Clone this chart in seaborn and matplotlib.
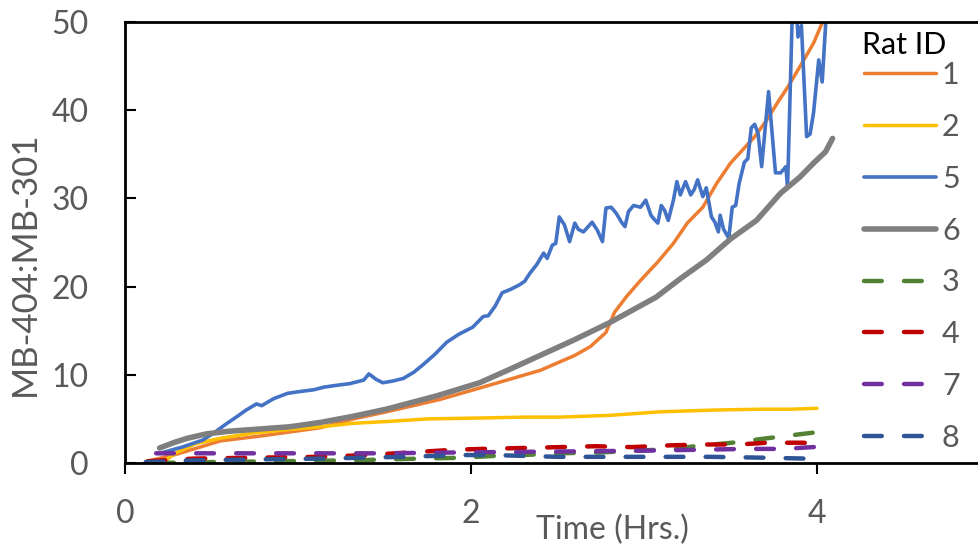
import matplotlib
matplotlib.use("Agg")
import matplotlib.pyplot as plt
import seaborn as sns
import pandas as pd

# ---- data: time (hrs) and MB-404:MB-301 ratio per rat ----
rat1_t = [0.15, 0.30, 0.55, 0.80, 1.13, 1.32, 1.51, 1.82, 2.05, 2.40, 2.60, 2.69, 2.78,
          2.83, 2.90, 2.98, 3.08, 3.17, 3.25, 3.34, 3.42, 3.50, 3.57, 3.64, 3.71, 3.77,
          3.83, 3.90, 3.98, 4.03, 4.08]
rat1_r = [0.3, 1.0, 2.5, 3.1, 4.0, 5.0, 5.8, 7.2, 8.5, 10.5, 12.2, 13.2, 14.8,
          17.1, 18.9, 20.7, 22.8, 24.9, 27.2, 29.0, 31.7, 34.0, 35.5, 37.0, 38.9, 40.8,
          42.6, 44.9, 47.6, 49.9, 51.5]

rat2_t = [0.22, 0.30, 0.41, 0.55, 0.74, 0.95, 1.13, 1.32, 1.51, 1.75, 2.05, 2.30, 2.51,
          2.80, 3.09, 3.40, 3.67, 3.85, 4.00]
rat2_r = [0.1, 1.2, 2.2, 2.8, 3.4, 3.8, 4.1, 4.5, 4.7, 5.0, 5.1, 5.2, 5.2,
          5.4, 5.8, 6.0, 6.1, 6.1, 6.2]

rat5_t = [0.22, 0.33, 0.45, 0.52, 0.59, 0.65, 0.70, 0.76, 0.79, 0.86, 0.94, 1.01, 1.09,
          1.15, 1.22, 1.30, 1.38, 1.41, 1.45, 1.49, 1.55, 1.61, 1.67, 1.72, 1.79, 1.86,
          1.93, 2.01, 2.07, 2.10, 2.14, 2.18, 2.23, 2.28, 2.31, 2.34, 2.38, 2.42, 2.44,
          2.47, 2.49, 2.51, 2.54, 2.57, 2.60, 2.62, 2.65, 2.70, 2.73, 2.76, 2.78, 2.81,
          2.84, 2.87, 2.89, 2.91, 2.94, 2.98, 3.01, 3.04, 3.06, 3.08, 3.10, 3.12, 3.14,
          3.17, 3.19, 3.21, 3.24, 3.27, 3.29, 3.31, 3.34, 3.36, 3.39, 3.41, 3.43, 3.44,
          3.46, 3.49, 3.51, 3.53, 3.55, 3.58, 3.60, 3.62, 3.64, 3.66, 3.68, 3.72, 3.76,
          3.79, 3.82, 3.83, 3.86, 3.88, 3.89, 3.91, 3.94, 3.96, 3.98, 4.01, 4.03, 4.06]
rat5_r = [1.2, 1.8, 2.6, 3.5, 4.5, 5.3, 6.0, 6.7, 6.5, 7.3, 7.9, 8.1, 8.3,
          8.6, 8.8, 9.0, 9.4, 10.1, 9.5, 9.1, 9.3, 9.6, 10.3, 11.1, 12.3, 13.7,
          14.6, 15.4, 16.6, 16.7, 17.8, 19.3, 19.7, 20.2, 20.6, 21.5, 22.5, 23.8, 23.2,
          24.7, 24.9, 27.9, 27.0, 25.1, 27.2, 26.5, 26.2, 27.3, 26.4, 25.1, 28.9, 29.0,
          28.3, 27.3, 26.8, 28.5, 29.2, 29.0, 29.8, 28.1, 27.6, 27.2, 29.2, 28.6, 27.5,
          29.8, 31.9, 30.4, 31.9, 30.4, 31.0, 32.1, 30.2, 31.2, 27.9, 27.3, 26.2, 28.1,
          26.5, 25.5, 29.0, 29.2, 31.7, 34.1, 34.5, 38.0, 38.4, 37.3, 33.6, 42.1, 32.9,
          32.9, 33.6, 31.3, 53.0, 52.0, 48.3, 49.6, 37.0, 37.3, 39.7, 45.7, 43.2, 53.0]

rat6_t = [0.20, 0.28, 0.36, 0.47, 0.60, 0.74, 0.95, 1.13, 1.32, 1.51, 1.80, 2.05, 2.21,
          2.40, 2.59, 2.80, 3.07, 3.21, 3.36, 3.50, 3.65, 3.79, 3.90, 3.98, 4.05, 4.09]
rat6_r = [1.7, 2.3, 2.8, 3.3, 3.6, 3.8, 4.1, 4.6, 5.3, 6.1, 7.6, 9.1, 10.5,
          12.2, 13.9, 15.9, 18.8, 20.9, 23.0, 25.4, 27.5, 30.6, 32.4, 34.0, 35.3, 36.8]

rat3_t = [0.18, 0.50, 0.90, 1.30, 1.71, 1.95, 2.13, 2.30, 2.51, 2.75, 2.96, 3.19, 3.29,
          3.51, 3.75, 3.96, 4.00]
rat3_r = [0.0, 0.1, 0.2, 0.3, 0.5, 0.6, 0.8, 0.9, 1.1, 1.2, 1.4, 1.6, 1.9,
          2.3, 2.9, 3.4, 3.5]

rat4_t = [0.13, 0.40, 0.74, 1.13, 1.40, 1.65, 1.90, 2.07, 2.30, 2.51, 2.72, 2.93, 3.15,
          3.36, 3.55, 3.71, 3.92, 3.98]
rat4_r = [0.2, 0.5, 0.6, 0.7, 0.9, 1.2, 1.5, 1.6, 1.7, 1.8, 1.9, 1.8, 2.0,
          2.1, 2.1, 2.3, 2.3, 2.2]

rat7_t = [0.18, 0.60, 1.00, 1.50, 1.94, 2.51, 3.00, 3.30, 3.60, 3.80, 4.06]
rat7_r = [1.1, 1.1, 1.1, 1.1, 1.2, 1.3, 1.4, 1.5, 1.6, 1.6, 1.9]

rat8_t = [0.12, 0.40, 0.74, 1.13, 1.61, 1.95, 2.13, 2.50, 2.90, 3.38, 3.70, 3.94]
rat8_r = [0.1, 0.3, 0.4, 0.5, 0.7, 0.9, 0.9, 0.7, 0.7, 0.7, 0.6, 0.5]

rat_ids = ["1", "2", "5", "6", "3", "4", "7", "8"]
times = [rat1_t, rat2_t, rat5_t, rat6_t, rat3_t, rat4_t, rat7_t, rat8_t]
ratios = [rat1_r, rat2_r, rat5_r, rat6_r, rat3_r, rat4_r, rat7_r, rat8_r]

x_ticks = [0, 2, 4]
y_ticks = [0, 10, 20, 30, 40, 50]

# ---- styling ----
colors = {"1": "#ED7D31", "2": "#FFC000", "5": "#4472C4", "6": "#7F7F7F",
          "3": "#548235", "4": "#C00000", "7": "#7030A0", "8": "#2F5597"}
widths = {"1": 2.5, "2": 2.5, "5": 2.6, "6": 4.0,
          "3": 3.2, "4": 3.2, "7": 3.2, "8": 3.2}
dashed = {"3", "4", "7", "8"}

sns.set_style("white")
plt.rcParams["font.family"] = ["Lato", "DejaVu Sans"]
grey = "#595959"

fig = plt.figure(figsize=(9.79, 5.48), dpi=100)
ax = fig.add_axes([125 / 979, 1 - 463 / 548, 1 - 125 / 979, 441 / 548])

for rid, t, r in zip(rat_ids, times, ratios):
    df = pd.DataFrame({"Time": t, "Ratio": r})
    sns.lineplot(data=df, x="Time", y="Ratio", ax=ax, estimator=None, sort=False,
                 color=colors[rid], linewidth=widths[rid], label=rid)
    line = ax.lines[-1]
    line.set_solid_capstyle("round")
    line.set_solid_joinstyle("round")
    if rid in dashed:
        line.set_dashes([4, 5])
        line.set_dash_capstyle("round")

ax.set_xlim(0, (979 - 125) / 173)
ax.set_ylim(0, 50)
ax.set_xticks(x_ticks)
ax.set_yticks(y_ticks)

for side in ("top", "left", "bottom"):
    ax.spines[side].set_visible(True)
    ax.spines[side].set_color("black")
    ax.spines[side].set_linewidth(2.0)
ax.spines["right"].set_visible(False)

ax.tick_params(axis="x", direction="out", length=8, width=1.5, color="black",
               labelsize=23, labelcolor=grey, pad=18, bottom=True)
ax.tick_params(axis="y", direction="in", length=8, width=1.5, color="black",
               labelsize=23, labelcolor=grey, pad=26, left=True)

ax.set_xlabel("Time (Hrs.)", fontsize=23, color=grey)
ax.xaxis.set_label_coords(0.571, -0.118)
ax.set_ylabel("MB-404:MB-301", fontsize=25, color=grey)
ax.yaxis.set_label_coords(-0.099, 0.451)

leg = ax.legend(loc="upper left", bbox_to_anchor=(864 / 979, 1 - 61 / 548),
                bbox_transform=fig.transFigure, frameon=False, fontsize=22,
                handlelength=2.35, handletextpad=0.2, labelspacing=0.78,
                borderaxespad=0, borderpad=0)
for txt in leg.get_texts():
    txt.set_color(grey)
fig.text(862 / 979, 1 - 45 / 548, "Rat ID", fontsize=22, color="black",
         ha="left", va="center")

fig.savefig("out.png", dpi=100)
